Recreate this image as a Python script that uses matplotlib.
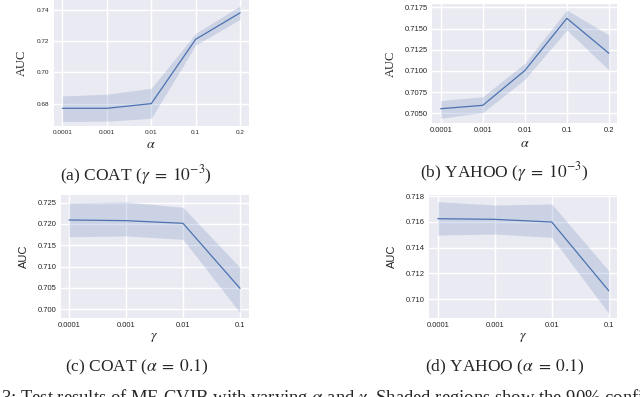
import numpy as np
import matplotlib
matplotlib.use("Agg")
import matplotlib.pyplot as plt
import seaborn as sns

# values
alpha_labels = ["0.0001", "0.001", "0.01", "0.1", "0.2"]
gamma_labels = ["0.0001", "0.001", "0.01", "0.1"]

coat_a_mean = [0.677, 0.677, 0.680, 0.7211, 0.738]
coat_a_low = [0.6686, 0.6688, 0.6706, 0.7174, 0.7339]
coat_a_high = [0.6849, 0.6860, 0.6898, 0.7249, 0.7424]

yahoo_a_mean = [0.70554, 0.70594, 0.71004, 0.71620, 0.71208]
yahoo_a_low = [0.70441, 0.70508, 0.70901, 0.71482, 0.71010]
yahoo_a_high = [0.70649, 0.70696, 0.71090, 0.71718, 0.71423]

coat_g_mean = [0.72094, 0.72078, 0.72016, 0.70491]
coat_g_low = [0.7170, 0.7172, 0.7164, 0.6992]
coat_g_high = [0.7250, 0.7252, 0.7239, 0.7098]

yahoo_g_mean = [0.71624, 0.71619, 0.71598, 0.71064]
yahoo_g_low = [0.71497, 0.71505, 0.71479, 0.70889]
yahoo_g_high = [0.71756, 0.71730, 0.71738, 0.71220]

captions = [r"(a) COAT ($\gamma\;=\;10^{-3}$)", r"(b) YAHOO ($\gamma\;=\;10^{-3}$)",
            r"(c) COAT ($\alpha\;=\;0.1$)", r"(d) YAHOO ($\alpha\;=\;0.1$)"]

sns.set_theme(style="darkgrid")
plt.rcParams["font.family"] = ["Liberation Sans", "DejaVu Sans"]
plt.rcParams["mathtext.fontset"] = "stix"

W, H = 640, 397
fig = plt.figure(figsize=(6.4, 3.97), dpi=100)


def px_axes(l, t, r, b):
    return fig.add_axes([l / W, 1 - b / H, (r - l) / W, (b - t) / H])


def panel(ax, labels, mean, low, high, ylim, yticks, fmt, tick_size, xname,
          ylab_x, serif_ylabel):
    x = np.arange(len(labels))
    ax.fill_between(x, low, high, color="#4C72B0", alpha=0.2, linewidth=0)
    ax.plot(x, mean, color="#4C72B0", linewidth=0.9)
    ax.set_xticks(x)
    ax.set_xticklabels(labels, fontsize=tick_size)
    ax.set_ylim(*ylim)
    ax.set_yticks(yticks)
    ax.set_yticklabels([fmt % v for v in yticks], fontsize=tick_size)
    ax.tick_params(axis="both", pad=3, length=0)
    ax.set_xlabel(xname, fontsize=10, labelpad=1)
    if serif_ylabel:
        ax.set_ylabel("AUC", fontsize=9, family="Liberation Serif")
    else:
        ax.set_ylabel("AUC", fontsize=8)
    ax.yaxis.set_label_coords(ylab_x, 0.5)
    for s in ax.spines.values():
        s.set_visible(False)


ax1 = px_axes(53.5, 0, 249, 126)
panel(ax1, alpha_labels, coat_a_mean, coat_a_low, coat_a_high,
      (0.6657, 0.7462), [0.68, 0.70, 0.72, 0.74], "%.2f", 4.6,
      r"$\alpha$", -0.13, True)

ax2 = px_axes(432.3, 4, 617.3, 123.3)
panel(ax2, alpha_labels, yahoo_a_mean, yahoo_a_low, yahoo_a_high,
      (0.70382, 0.71789), [0.7050, 0.7075, 0.7100, 0.7125, 0.7150, 0.7175],
      "%.4f", 5.5, r"$\alpha$", -0.19, True)

ax3 = px_axes(60.5, 195, 248.5, 317.7)
panel(ax3, gamma_labels, coat_g_mean, coat_g_low, coat_g_high,
      (0.69801, 0.7268), [0.700, 0.705, 0.710, 0.715, 0.720, 0.725],
      "%.3f", 5.5, r"$\gamma$", -0.17, False)

ax4 = px_axes(429.2, 195, 617.3, 317.7)
panel(ax4, gamma_labels, yahoo_g_mean, yahoo_g_low, yahoo_g_high,
      (0.70855, 0.71808), [0.710, 0.712, 0.714, 0.716, 0.718],
      "%.3f", 5.5, r"$\gamma$", -0.17, False)

# sub-captions
cap_pos = [(136, 175), (504, 172), (137, 367), (505, 367)]
for (cx, cy), txt in zip(cap_pos, captions):
    fig.text(cx / W, 1 - cy / H, txt, ha="center", va="center",
             fontsize=12.5, family="Liberation Serif")

# figure caption, cut off by the image border like in the original page crop
fig.text(1 / W, 1 - 403 / H,
         r"3: Test results of MF-CVIB with varying $\alpha$ and $\gamma$. "
         r"Shaded regions show the 90% confidence intervals.",
         ha="left", va="baseline", fontsize=13.4, family="Liberation Serif")

fig.savefig("out.png", dpi=100)
